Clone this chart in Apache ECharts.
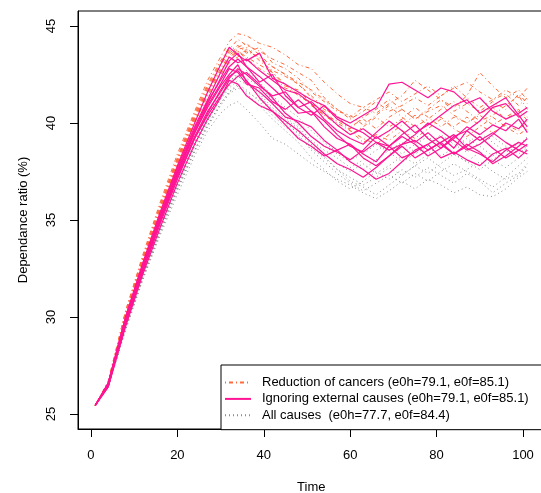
<!DOCTYPE html>
<html>
<head>
<meta charset="utf-8">
<script src="https://cdn.jsdelivr.net/npm/echarts@6/dist/echarts.min.js"></script>
<style>
  html, body { margin: 0; padding: 0; background: #fff; }
  #chart { width: 541px; height: 493px; }
</style>
</head>
<body>
<div id="chart"></div>
<script>
// years at which each simulated trajectory is read
const TIME = [1, 4, 8, 12, 16, 20, 24, 27, 30, 32, 34, 36, 39, 42, 45, 48, 51, 54, 57, 60,
  63, 66, 69, 72, 75, 78, 81, 84, 87, 90, 93, 96, 99, 101];

// Reduction of cancers (orange dot-dash)
const CANCERS = [
  [25.45, 26.7, 30.3, 33.2, 35.9, 38.4, 40.6, 42.2, 43.4, 44.2, 44.6, 44.5, 44.1, 43.9, 43.5, 43.0, 42.8, 42.1, 41.5, 41.0, 40.8, 41.2, 41.6, 41.1, 41.5, 41.9, 41.4, 41.8, 42.1, 41.6, 41.2, 41.5, 40.9, 41.3],
  [25.45, 26.6, 30.2, 33.0, 35.7, 38.2, 40.4, 41.9, 43.1, 43.8, 44.3, 44.0, 43.7, 43.3, 43.0, 42.6, 42.2, 41.3, 40.7, 40.3, 40.8, 40.5, 41.0, 41.4, 42.2, 41.7, 41.2, 40.8, 41.4, 42.6, 41.9, 41.3, 41.7, 41.2],
  [25.45, 26.6, 30.1, 32.9, 35.6, 38.0, 40.2, 41.6, 42.8, 43.5, 43.8, 43.9, 43.2, 42.7, 42.4, 42.0, 41.4, 40.8, 40.2, 39.8, 40.2, 39.7, 40.3, 40.7, 40.2, 40.6, 40.9, 40.4, 40.0, 40.5, 40.8, 40.2, 40.6, 40.3],
  [25.45, 26.6, 30.2, 33.0, 35.6, 38.1, 40.3, 41.7, 43.0, 43.7, 44.0, 43.6, 43.9, 43.1, 42.8, 42.3, 41.6, 41.1, 40.6, 40.4, 39.9, 40.4, 40.9, 40.3, 39.8, 40.2, 40.7, 41.1, 40.6, 40.1, 40.4, 40.9, 41.4, 40.7],
  [25.45, 26.7, 30.3, 33.1, 35.8, 38.2, 40.5, 42.0, 43.2, 43.9, 43.6, 43.7, 43.4, 42.6, 41.9, 41.7, 41.0, 40.4, 39.9, 39.4, 39.8, 40.3, 39.8, 40.2, 40.8, 40.3, 39.8, 40.3, 40.0, 40.4, 39.9, 40.3, 40.7, 40.1],
  [25.45, 26.6, 30.1, 32.9, 35.5, 37.9, 40.1, 41.5, 42.6, 43.3, 43.7, 43.4, 43.0, 42.6, 42.0, 41.4, 41.0, 40.6, 40.0, 39.6, 39.2, 38.9, 39.4, 39.9, 40.4, 39.9, 40.3, 39.7, 39.3, 39.8, 40.3, 39.8, 39.4, 39.7],
  [25.45, 26.5, 30.0, 32.8, 35.4, 37.8, 40.0, 41.4, 42.5, 43.1, 43.4, 43.8, 43.3, 42.9, 42.5, 42.1, 41.7, 41.2, 40.7, 40.2, 40.6, 41.1, 40.6, 40.9, 41.3, 40.9, 41.4, 41.9, 41.3, 40.8, 41.2, 41.7, 41.3, 41.8],
  [25.45, 26.6, 30.2, 33.0, 35.6, 38.1, 40.3, 41.8, 43.0, 43.6, 43.9, 44.1, 43.5, 42.9, 42.5, 42.0, 41.3, 40.7, 40.4, 39.6, 39.0, 39.4, 39.1, 39.6, 39.2, 39.7, 40.2, 39.8, 40.3, 39.9, 39.5, 39.9, 39.6, 40.1],
  [25.45, 26.6, 30.1, 32.9, 35.5, 38.0, 40.2, 41.6, 42.7, 43.4, 43.7, 43.3, 42.8, 42.4, 41.8, 41.5, 40.9, 40.4, 40.1, 39.7, 40.3, 40.7, 41.2, 40.7, 40.2, 40.7, 41.2, 40.6, 41.0, 40.6, 41.1, 40.7, 41.5, 41.0]
];

// Ignoring external causes (pink solid)
const EXTERNAL = [
  [25.45, 26.6, 30.0, 32.8, 35.4, 37.8, 40.0, 41.6, 43.0, 43.9, 43.5, 43.2, 43.6, 42.3, 42.0, 41.6, 41.2, 40.9, 40.2, 39.8, 39.5, 39.0, 38.8, 38.2, 38.5, 38.9, 39.3, 38.7, 39.6, 40.1, 40.8, 41.0, 40.3, 40.6],
  [25.45, 26.5, 29.9, 32.7, 35.2, 37.5, 39.6, 41.0, 42.3, 43.2, 43.6, 42.9, 42.4, 41.8, 41.2, 40.5, 40.6, 39.8, 39.2, 38.9, 38.2, 37.8, 38.3, 38.9, 39.1, 38.6, 39.0, 39.4, 38.7, 38.4, 38.0, 38.6, 39.0, 38.8],
  [25.45, 26.5, 29.8, 32.5, 35.0, 37.3, 39.3, 40.6, 41.6, 42.3, 42.8, 42.5, 41.9, 41.4, 41.6, 40.8, 40.4, 40.9, 40.3, 40.0, 40.4, 40.8, 42.0, 42.1, 41.7, 41.3, 41.8, 41.6, 41.0, 41.3, 40.6, 40.2, 40.5, 40.8],
  [25.45, 26.6, 29.9, 32.6, 35.2, 37.6, 39.7, 41.1, 42.2, 42.9, 43.3, 42.9, 42.1, 42.5, 41.4, 40.8, 41.1, 40.5, 39.9, 39.4, 39.7, 39.2, 39.6, 40.1, 39.5, 39.9, 40.4, 40.9, 41.2, 40.5, 40.9, 41.3, 40.4, 39.8],
  [25.45, 26.4, 29.6, 32.3, 34.8, 37.1, 39.2, 40.5, 41.7, 42.4, 42.7, 42.2, 41.3, 40.6, 40.1, 39.6, 39.0, 38.4, 37.9, 37.6, 37.2, 37.7, 38.3, 38.8, 38.2, 38.6, 39.0, 38.4, 38.9, 38.5, 37.9, 38.3, 38.8, 39.2],
  [25.45, 26.5, 29.7, 32.4, 34.9, 37.2, 39.2, 40.4, 41.4, 42.0, 42.4, 42.6, 42.0, 41.3, 40.5, 40.0, 39.3, 38.8, 38.5, 38.1, 38.6, 39.3, 38.8, 39.4, 39.9, 39.2, 38.7, 39.3, 39.6, 39.1, 39.5, 39.0, 38.6, 38.9],
  [25.45, 26.5, 29.8, 32.5, 35.0, 37.4, 39.5, 40.8, 41.9, 42.5, 43.0, 42.1, 41.6, 41.0, 40.3, 40.1, 39.8, 39.1, 38.6, 38.9, 38.4, 38.0, 38.8, 39.3, 38.9, 38.3, 38.7, 39.2, 39.8, 39.4, 39.9, 39.6, 40.2, 39.5],
  [25.45, 26.4, 29.5, 32.2, 34.6, 36.9, 38.9, 40.2, 41.3, 42.2, 42.0, 41.4, 40.9, 40.6, 39.9, 39.2, 38.8, 38.3, 38.6, 38.0, 37.6, 37.1, 37.4, 38.0, 38.6, 38.9, 38.2, 38.5, 38.1, 37.8, 38.4, 38.7, 38.2, 38.6],
  [25.45, 26.6, 30.0, 32.7, 35.3, 37.7, 39.8, 41.2, 42.6, 43.4, 43.1, 43.3, 42.7, 42.2, 41.7, 41.5, 41.0, 40.2, 39.6, 39.2, 38.9, 39.5, 40.1, 39.6, 39.0, 39.5, 38.9, 38.4, 38.8, 39.3, 38.7, 38.2, 38.6, 38.4],
  [25.45, 26.5, 29.8, 32.5, 35.1, 37.4, 39.5, 40.9, 42.0, 42.8, 42.6, 42.0, 41.8, 41.1, 40.7, 41.2, 40.6, 40.1, 39.4, 38.8, 38.5, 39.0, 38.6, 38.9, 39.4, 40.0, 39.6, 39.1, 38.6, 38.9, 39.4, 40.0, 39.7, 40.2]
];

// All causes (grey dotted)
const ALL_CAUSES = [
  [25.45, 26.4, 29.3, 31.9, 34.2, 36.3, 38.3, 39.6, 40.5, 40.9, 41.1, 40.7, 40.0, 39.2, 38.9, 38.4, 37.9, 37.5, 37.1, 36.8, 36.4, 36.1, 36.5, 37.0, 36.6, 37.1, 36.8, 36.4, 36.7, 36.3, 36.2, 36.6, 37.2, 37.5],
  [25.45, 26.4, 29.4, 32.0, 34.4, 36.6, 38.6, 39.9, 41.0, 41.6, 42.0, 41.7, 41.1, 40.4, 39.8, 39.3, 38.7, 38.2, 37.6, 37.2, 36.8, 37.2, 37.7, 37.3, 37.8, 38.2, 37.7, 37.3, 37.6, 38.0, 37.5, 37.1, 37.4, 37.9],
  [25.45, 26.4, 29.5, 32.1, 34.5, 36.7, 38.8, 40.1, 41.3, 41.9, 42.4, 42.1, 41.5, 40.8, 40.2, 39.7, 39.0, 38.4, 37.9, 37.5, 37.9, 37.4, 37.8, 38.3, 37.9, 38.4, 38.9, 38.4, 38.0, 38.5, 38.1, 38.6, 38.9, 38.5],
  [25.45, 26.4, 29.4, 32.0, 34.3, 36.5, 38.5, 39.8, 40.9, 41.5, 41.8, 41.6, 41.2, 40.6, 40.0, 39.5, 38.9, 38.3, 37.6, 37.0, 36.7, 36.3, 36.8, 37.3, 37.8, 37.4, 37.9, 38.4, 38.0, 37.6, 38.1, 37.7, 38.2, 38.7],
  [25.45, 26.5, 29.6, 32.2, 34.6, 36.9, 39.0, 40.3, 41.5, 42.1, 42.6, 42.3, 41.9, 41.2, 40.5, 39.9, 39.3, 38.8, 38.4, 38.0, 37.6, 38.1, 38.6, 39.0, 38.5, 38.9, 39.4, 38.9, 38.5, 38.9, 39.3, 38.8, 38.4, 38.8],
  [25.45, 26.4, 29.5, 32.1, 34.5, 36.8, 38.8, 40.1, 41.2, 41.8, 42.2, 42.0, 41.4, 40.7, 40.1, 39.4, 38.6, 38.0, 37.4, 36.9, 36.5, 36.9, 37.3, 36.9, 37.4, 37.0, 37.5, 37.9, 37.5, 37.1, 36.7, 37.2, 37.8, 38.2],
  [25.45, 26.5, 29.6, 32.2, 34.6, 36.8, 38.9, 40.2, 41.4, 42.0, 42.5, 42.7, 42.1, 41.4, 40.8, 40.3, 39.6, 39.0, 38.5, 38.1, 38.4, 38.9, 38.5, 38.0, 38.4, 38.8, 38.3, 38.7, 39.2, 38.8, 38.3, 38.7, 39.0, 38.6],
  [25.45, 26.4, 29.4, 32.0, 34.4, 36.6, 38.6, 39.9, 41.0, 41.6, 41.9, 41.5, 40.9, 40.2, 39.6, 39.0, 38.2, 37.6, 37.0, 36.6, 37.0, 37.5, 37.1, 37.6, 37.2, 37.7, 37.3, 36.9, 37.4, 37.0, 36.4, 36.9, 37.3, 37.8],
  [25.45, 26.5, 29.6, 32.3, 34.7, 36.9, 39.0, 40.4, 41.6, 42.2, 42.4, 42.1, 41.7, 41.0, 40.3, 39.8, 39.1, 38.6, 38.2, 37.7, 38.1, 38.6, 38.9, 38.4, 38.9, 39.3, 38.8, 39.3, 38.9, 39.5, 39.0, 38.5, 38.8, 39.3]
];

const LEGEND_NAMES = [
  'Reduction of cancers (e0h=79.1, e0f=85.1)',
  'Ignoring external causes (e0h=79.1, e0f=85.1)',
  'All causes  (e0h=77.7, e0f=84.4)'
];
const X_TICKS = [0, 20, 40, 60, 80, 100];
const Y_TICKS = [25, 30, 35, 40, 45];

const FONT = 'Liberation Sans, Arial, sans-serif';

function makeSeries(runs, name, lineStyle) {
  return runs.map(run => ({
    type: 'line',
    name: name,
    data: run.map((v, i) => [TIME[i], v]),
    symbol: 'none',
    silent: true,
    itemStyle: { color: lineStyle.color },
    lineStyle: lineStyle
  }));
}

const chart = echarts.init(document.getElementById('chart'), null, { renderer: 'canvas' });

const series = [].concat(
  makeSeries(ALL_CAUSES, LEGEND_NAMES[2], { color: '#8c8c8c', width: 1, type: [1, 3] }),
  makeSeries(CANCERS, LEGEND_NAMES[0], { color: '#ff6a3d', width: 1, type: [1, 3, 4, 3] }),
  makeSeries(EXTERNAL, LEGEND_NAMES[1], { color: '#ff1493', width: 1.2, type: 'solid' })
);

const axisLine = { show: true, onZero: false, lineStyle: { color: '#000', width: 1 } };

chart.setOption({
  animation: false,
  grid: {
    left: 78, top: 11, right: -3.6, bottom: 64,
    outerBoundsMode: 'none',
    containLabel: false,
    show: true, borderColor: '#000', borderWidth: 1
  },
  legend: {
    data: LEGEND_NAMES,
    orient: 'vertical',
    left: 221, top: 365,
    padding: [11, 40, 7.9, 3],
    itemWidth: 26, itemHeight: 14, itemGap: 3.4,
    borderColor: '#000', borderWidth: 1, borderRadius: 0,
    backgroundColor: '#fff',
    selectedMode: false,
    itemStyle: { opacity: 0, borderWidth: 0 },
    textStyle: { fontFamily: FONT, fontSize: 13, color: '#000', padding: [0, 0, 0, 6] }
  },
  xAxis: {
    type: 'value', min: -3, max: 105,
    name: 'Time', nameLocation: 'middle', nameGap: 52,
    nameTextStyle: { fontFamily: FONT, fontSize: 13, color: '#000' },
    axisLine: axisLine,
    splitLine: { show: false },
    axisTick: { show: true, inside: false, length: 8, customValues: X_TICKS, lineStyle: { color: '#000', width: 1 } },
    axisLabel: { customValues: X_TICKS, fontFamily: FONT, fontSize: 13, color: '#000', margin: 20 }
  },
  yAxis: {
    type: 'value', min: 24.23, max: 45.77,
    name: 'Dependance ratio (%)', nameLocation: 'middle', nameGap: 48,
    nameTextStyle: { fontFamily: FONT, fontSize: 13, color: '#000' },
    axisLine: axisLine,
    splitLine: { show: false },
    axisTick: { show: true, inside: false, length: 8, customValues: Y_TICKS, lineStyle: { color: '#000', width: 1 } },
    axisLabel: { customValues: Y_TICKS, rotate: 90, fontFamily: FONT, fontSize: 13, color: '#000', margin: 20 }
  },
  series: series
});
</script>
</body>
</html>
